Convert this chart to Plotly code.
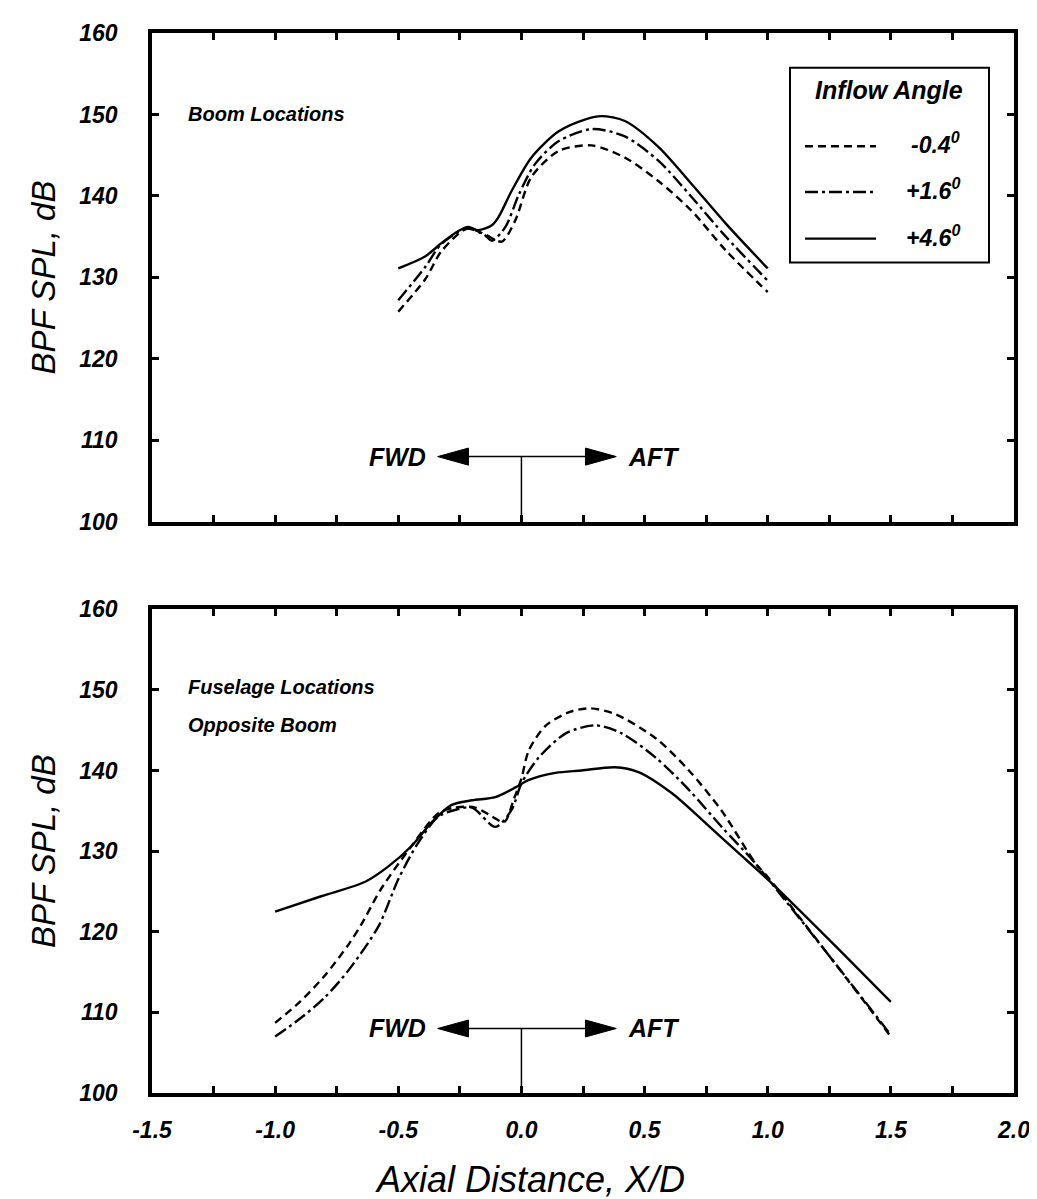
import plotly.graph_objects as go

# ---------------- data ----------------
# Top panel: Boom locations
top_x_m04 = [-0.5, -0.39, -0.325, -0.22, -0.15, -0.08, -0.025, 0.04, 0.15, 0.285, 0.42, 0.557, 0.69, 0.83, 1.0]
top_y_m04 = [125.8, 129.8, 133.2, 136.0, 135.3, 134.4, 137.0, 142.3, 145.5, 146.2, 144.7, 141.8, 138.2, 133.3, 128.2]

top_x_p16 = [-0.5, -0.39, -0.325, -0.22, -0.15, -0.12, -0.065, -0.01, 0.055, 0.15, 0.285, 0.42, 0.557, 0.69, 0.83, 1.0]
top_y_p16 = [127.2, 131.3, 134.1, 136.0, 135.2, 134.5, 136.2, 140.2, 143.9, 146.7, 148.2, 147.3, 144.3, 139.9, 135.0, 129.6]

top_x_p46 = [-0.5, -0.39, -0.325, -0.256, -0.215, -0.175, -0.12, -0.093, -0.04, 0.04, 0.15, 0.26, 0.325, 0.42, 0.557, 0.69, 0.83, 1.0]
top_y_p46 = [131.1, 132.6, 134.2, 135.7, 136.2, 135.8, 136.4, 137.4, 140.6, 144.7, 147.9, 149.4, 149.8, 149.2, 146.0, 141.5, 136.6, 131.1]

# Bottom panel: Fuselage locations opposite boom
bot_x_m04 = [-1.0, -0.9, -0.8, -0.7, -0.65, -0.57, -0.447, -0.337, -0.27, -0.187, -0.12, -0.07, -0.03, 0.0, 0.03, 0.1, 0.2, 0.28, 0.38, 0.545, 0.68, 0.813, 0.95, 1.0, 1.25, 1.5]
bot_y_m04 = [108.7, 111.3, 114.5, 118.5, 120.9, 125.3, 130.6, 134.7, 135.4, 135.4, 134.3, 133.6, 136.5, 139.0, 142.5, 145.6, 147.3, 147.7, 147.0, 144.0, 140.0, 135.0, 128.5, 126.8, 117.0, 107.0]

bot_x_p16 = [-1.0, -0.9, -0.8, -0.7, -0.58, -0.5, -0.42, -0.337, -0.27, -0.2, -0.106, -0.04, 0.0, 0.07, 0.18, 0.3, 0.407, 0.545, 0.68, 0.813, 0.935, 1.0, 1.25, 1.5]
bot_y_p16 = [107.0, 109.2, 111.8, 115.3, 120.7, 126.5, 131.0, 134.3, 135.1, 135.4, 133.0, 135.1, 138.4, 141.6, 144.6, 145.6, 144.6, 141.6, 137.6, 133.0, 129.0, 126.6, 117.0, 107.2]

bot_x_p46 = [-1.0, -0.813, -0.634, -0.54, -0.447, -0.366, -0.285, -0.2, -0.106, -0.024, 0.028, 0.138, 0.244, 0.38, 0.475, 0.61, 0.747, 0.88, 1.0, 1.25, 1.5]
bot_y_p46 = [122.5, 124.4, 126.2, 128.1, 130.6, 133.5, 135.7, 136.3, 136.7, 137.9, 138.8, 139.7, 140.0, 140.4, 139.8, 137.2, 133.5, 129.8, 126.5, 119.0, 111.3]

series_names = ["-0.4", "+1.6", "+4.6"]
x_tickvals = [-1.5, -1.0, -0.5, 0.0, 0.5, 1.0, 1.5, 2.0]
x_ticklabels = ["-1.5", "-1.0", "-0.5", "0.0", "0.5", "1.0", "1.5", "2.0"]
y_tickvals = [100, 110, 120, 130, 140, 150, 160]

# ---------------- styling ----------------
W, H = 1037, 1199
ML, MR, MT, MB = 144, 31, 18, 114
PW, PH = W - ML - MR, H - MT - MB
def px(x): return (x - ML) / PW
def py(y): return (H - MB - y) / PH

FONT = "Liberation Sans"
dashes = {"-0.4": "8px,5px", "+1.6": "13px,4px,3px,4px", "+4.6": "solid"}
LW = 2.4

fig = go.Figure()
panels = [
    ("x", "y", [(top_x_m04, top_y_m04), (top_x_p16, top_y_p16), (top_x_p46, top_y_p46)]),
    ("x2", "y2", [(bot_x_m04, bot_y_m04), (bot_x_p16, bot_y_p16), (bot_x_p46, bot_y_p46)]),
]
for xa, ya, data in panels:
    for name, (xs, ys) in zip(series_names, data):
        fig.add_trace(go.Scatter(x=xs, y=ys, mode="lines", xaxis=xa, yaxis=ya,
                                 line=dict(color="black", width=LW, dash=dashes[name],
                                           shape="spline", smoothing=0.8),
                                 showlegend=False, name=name))

tickfont = dict(family=FONT, size=23, color="black", weight="bold", style="italic")
axcommon = dict(showline=True, linewidth=3.5, linecolor="black", mirror="ticks",
                ticks="inside", ticklen=7, tickwidth=2.5, tickcolor="black",
                showgrid=False, zeroline=False, tickfont=tickfont)
xminor = dict(tick0=-1.5, dtick=0.25, ticks="inside", ticklen=7, tickwidth=2.5,
              tickcolor="black", showgrid=False)

fig.update_layout(
    width=W, height=H, margin=dict(l=ML, r=MR, t=MT, b=MB),
    paper_bgcolor="white", plot_bgcolor="white",
    xaxis=dict(domain=[0, 1], range=[-1.5, 2.0], tickvals=x_tickvals, showticklabels=False,
               minor=xminor, anchor="y", **axcommon),
    yaxis=dict(domain=[py(510), 1.0], range=[100, 160], tickvals=y_tickvals,
               anchor="x", ticklabelstandoff=26, **axcommon),
    xaxis2=dict(domain=[0, 1], range=[-1.5, 2.0], tickvals=x_tickvals,
                ticktext=x_ticklabels, minor=xminor, anchor="y2", ticklabelstandoff=14, **axcommon),
    yaxis2=dict(domain=[0, py(598)], range=[100, 160], tickvals=y_tickvals,
                anchor="x2", ticklabelstandoff=26, **axcommon),
)

ann = []
labfont = dict(family=FONT, size=20, color="black", weight="bold", style="italic")
bigfont = dict(family=FONT, size=25, color="black", weight="bold", style="italic")
ytitlefont = dict(family=FONT, size=33, color="black", style="italic")
xtitlefont = dict(family=FONT, size=36, color="black", style="italic")

ann.append(dict(text="Boom Locations", x=-1.36, y=150.0, xref="x", yref="y",
                xanchor="left", yanchor="middle", showarrow=False, font=labfont))
ann.append(dict(text="Fuselage Locations", x=-1.36, y=150.3, xref="x2", yref="y2",
                xanchor="left", yanchor="middle", showarrow=False, font=labfont))
ann.append(dict(text="Opposite Boom", x=-1.36, y=145.6, xref="x2", yref="y2",
                xanchor="left", yanchor="middle", showarrow=False, font=labfont))

# axis titles
for yc in [(18 + 510) / 2, (598 + 1085) / 2]:
    ann.append(dict(text="BPF SPL, dB", x=px(35), y=py(yc), xref="paper", yref="paper",
                    textangle=-90, showarrow=False, font=ytitlefont,
                    xanchor="center", yanchor="middle"))
ann.append(dict(text="Axial Distance, X/D", x=px(522), y=py(1172), xref="paper", yref="paper",
                showarrow=False, font=xtitlefont, xanchor="center", yanchor="middle"))

shapes = []
# FWD / AFT arrows in both panels
arrow_y = 108.0
for xr, yr in [("x", "y"), ("x2", "y2")]:
    tipL, tipR, hl, hh = -0.34, 0.385, 0.125, 1.05
    shapes.append(dict(type="line", xref=xr, yref=yr, x0=tipL + hl, x1=tipR - hl,
                       y0=arrow_y, y1=arrow_y, line=dict(color="black", width=1.5)))
    shapes.append(dict(type="line", xref=xr, yref=yr, x0=0, x1=0, y0=arrow_y, y1=100,
                       line=dict(color="black", width=1.5)))
    shapes.append(dict(type="path", xref=xr, yref=yr,
                       path=f"M {tipL},{arrow_y} L {tipL+hl},{arrow_y+hh} L {tipL+hl},{arrow_y-hh} Z",
                       fillcolor="black", line=dict(color="black", width=1)))
    shapes.append(dict(type="path", xref=xr, yref=yr,
                       path=f"M {tipR},{arrow_y} L {tipR-hl},{arrow_y+hh} L {tipR-hl},{arrow_y-hh} Z",
                       fillcolor="black", line=dict(color="black", width=1)))
    ann.append(dict(text="FWD", x=tipL - 0.04, y=arrow_y, xref=xr, yref=yr, xanchor="right",
                    yanchor="middle", showarrow=False, font=bigfont))
    ann.append(dict(text="AFT", x=tipR + 0.04, y=arrow_y, xref=xr, yref=yr, xanchor="left",
                    yanchor="middle", showarrow=False, font=bigfont))

# legend box (drawn)
shapes.append(dict(type="rect", xref="paper", yref="paper", x0=px(782), x1=px(981),
                   y0=py(249), y1=py(53), line=dict(color="black", width=2), fillcolor="white"))
ann.append(dict(text="Inflow Angle", x=px(881), y=py(75), xref="paper", yref="paper",
                showarrow=False, font=dict(family=FONT, size=25, color="black", weight="bold", style="italic"),
                xanchor="center", yanchor="middle"))
leg_font = dict(family=FONT, size=23, color="black", weight="bold", style="italic")
for name, yy in zip(series_names, [132, 178, 225]):
    d = dashes[name]
    shapes.append(dict(type="line", xref="paper", yref="paper", x0=px(797), x1=px(868),
                       y0=py(yy), y1=py(yy), line=dict(color="black", width=LW, dash=d)))
    ann.append(dict(text=name + "<sup>0</sup>", x=px(954), y=py(yy - 3), xref="paper", yref="paper",
                    showarrow=False, font=leg_font, xanchor="right", yanchor="middle"))

fig.update_layout(annotations=ann, shapes=shapes)
fig.write_html("out.html")
